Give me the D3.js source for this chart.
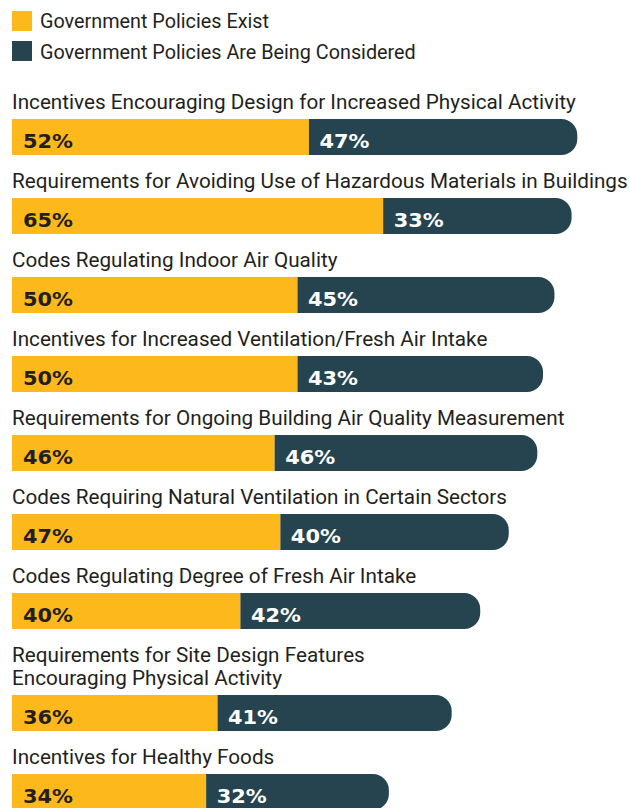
<!DOCTYPE html>
<html><head><meta charset="utf-8">
<script src="https://cdn.jsdelivr.net/npm/d3@7"></script>
<style>
body{margin:0;background:#fff;}
svg{display:block;}
</style></head>
<body>
<svg id="chart" width="630" height="808"></svg>
<script>
const categories = [
  "Incentives Encouraging Design for Increased Physical Activity",
  "Requirements for Avoiding Use of Hazardous Materials in Buildings",
  "Codes Regulating Indoor Air Quality",
  "Incentives for Increased Ventilation/Fresh Air Intake",
  "Requirements for Ongoing Building Air Quality Measurement",
  "Codes Requiring Natural Ventilation in Certain Sectors",
  "Codes Regulating Degree of Fresh Air Intake",
  "Requirements for Site Design Features\nEncouraging Physical Activity",
  "Incentives for Healthy Foods"
];
const existValues = [52, 65, 50, 50, 46, 47, 40, 36, 34];
const consideredValues = [47, 33, 45, 43, 46, 40, 42, 41, 32];
const seriesNames = ["Government Policies Exist", "Government Policies Are Being Considered"];
const colors = ["#FDB81C", "#25444F"];

(function () {
const svg = d3.select("#chart");
const labelFont = "Roboto, 'DejaVu Sans Condensed', sans-serif";
const valueFont = "'DejaVu Sans', sans-serif";
const textColor = "#231F20";
const labelSize = 20.5;
const legendSize = 19.6;
const valueSize = 20;

const x = d3.scaleLinear().domain([0, 100]).range([12, 583]);

// measure the condensed factor: first category label spans ~564px in the reference
const probe = svg.append("text").attr("font-family", labelFont).attr("font-size", labelSize).text(categories[0]);
const sx = 564 / probe.node().getComputedTextLength();
probe.remove();
// factor for the heavy value labels ("52%" spans ~50px)
const probe2 = svg.append("text").attr("font-family", valueFont).attr("font-weight", "bold").attr("font-size", valueSize).text("52%");
const vx = 50 / probe2.node().getComputedTextLength();
probe2.remove();

function label(parent, tx, ty, str, size) {
  return parent.append("text")
    .attr("transform", `translate(${tx},${ty}) scale(${sx},1)`)
    .attr("font-family", labelFont).attr("font-size", size).attr("fill", textColor).text(str);
}
function value(parent, tx, ty, str, fill) {
  return parent.append("text")
    .attr("transform", `translate(${tx},${ty}) scale(${vx},1)`)
    .attr("font-family", valueFont).attr("font-weight", "bold").attr("font-size", valueSize)
    .attr("fill", fill).text(str);
}

// Legend
const legend = svg.append("g");
seriesNames.forEach((name, i) => {
  legend.append("rect").attr("x", 12).attr("y", 11 + i * 30).attr("width", 20).attr("height", 20).attr("fill", colors[i]);
  label(legend, 40, 28 + i * 31, name, legendSize);
});

// Layout rows
const barH = 36, r = 16;
const rows = [];
let barTop = 119;
categories.forEach((c, i) => {
  const lines = c.split("\n");
  if (i > 0) barTop += 79 + 23 * (lines.length - 1);
  rows.push({lines, top: barTop, exist: existValues[i], considered: consideredValues[i]});
});

const g = svg.selectAll("g.row").data(rows).join("g").attr("class", "row");

g.each(function(d) {
  const sel = d3.select(this);
  d.lines.forEach((ln, j) => {
    label(sel, 12, d.top - 10 - 23 * (d.lines.length - 1 - j), ln, labelSize);
  });
  const x0 = x(0), x1 = x(d.exist), x2 = x(d.exist + d.considered);
  sel.append("rect").attr("x", x0).attr("y", d.top).attr("width", x1 - x0).attr("height", barH).attr("fill", colors[0]);
  const p = d3.path();
  p.moveTo(x1, d.top);
  p.lineTo(x2 - r, d.top);
  p.arcTo(x2, d.top, x2, d.top + r, r);
  p.lineTo(x2, d.top + barH - r);
  p.arcTo(x2, d.top + barH, x2 - r, d.top + barH, r);
  p.lineTo(x1, d.top + barH);
  p.closePath();
  sel.append("path").attr("d", p.toString()).attr("fill", colors[1]);
  value(sel, x0 + 11, d.top + 28.5, d.exist + "%", textColor);
  value(sel, x1 + 10.5, d.top + 28.5, d.considered + "%", "#fff");
});
})();
</script>
</body></html>
